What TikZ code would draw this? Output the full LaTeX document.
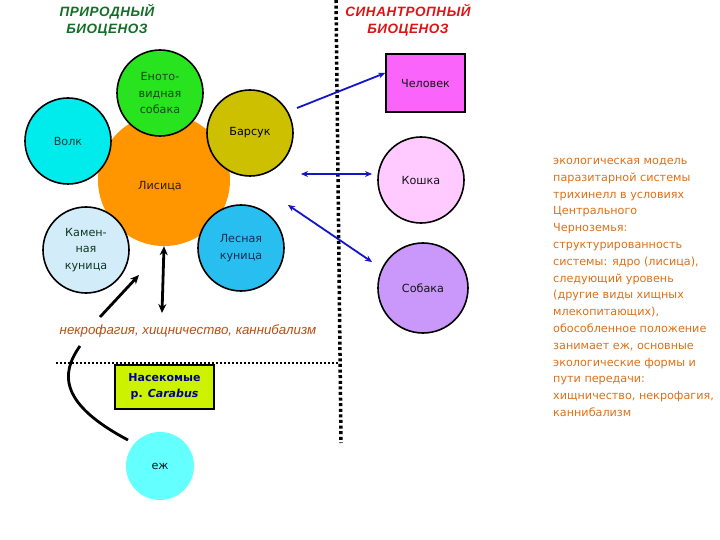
\documentclass[tikz,border=0pt]{standalone}
\usepackage{fontspec}
\setmainfont{DejaVu Sans}
\newfontfamily\titlefont[LetterSpace=4]{Liberation Sans}
\newfontfamily\pathfont{Liberation Sans}
\newfontfamily\notefont{DejaVu Sans}
\usetikzlibrary{arrows.meta}
\definecolor{cGreen}{RGB}{40,228,30}
\definecolor{cWolf}{RGB}{0,236,236}
\definecolor{cBadger}{RGB}{204,192,0}
\definecolor{cFox}{RGB}{255,150,0}
\definecolor{cStone}{RGB}{210,236,250}
\definecolor{cPine}{RGB}{40,190,240}
\definecolor{cMan}{RGB}{250,100,250}
\definecolor{cCat}{RGB}{255,202,255}
\definecolor{cDog}{RGB}{202,152,250}
\definecolor{cIns}{RGB}{204,242,0}
\definecolor{cHog}{RGB}{100,255,255}
\definecolor{cNote}{RGB}{222,112,24}
\definecolor{cPath}{RGB}{186,78,20}
\definecolor{cTitleG}{RGB}{20,110,40}
\definecolor{cTitleR}{RGB}{220,20,20}
\definecolor{cArrow}{RGB}{20,20,200}
\definecolor{cTxt}{RGB}{20,20,25}
\begin{document}
\begin{tikzpicture}[x=1pt,y=-1pt,
  circ/.style={circle,draw=black,line width=1.6pt,minimum size=86pt,inner sep=0pt,align=center,font=\fontsize{11.2}{16.5}\selectfont,text=cTxt},
  title/.style={align=center,font=\titlefont\fontsize{13.5}{17}\selectfont\bfseries\itshape},
  barrow/.style={draw=cArrow,line width=1.8pt,-{Stealth[length=7pt,width=6pt]}},
  bdarrow/.style={draw=cArrow,line width=1.8pt,{Stealth[length=7pt,width=6pt]}-{Stealth[length=7pt,width=6pt]}},
  karrow/.style={draw=black,line width=2.8pt,-{Stealth[length=9pt,width=8pt]}},
  kdarrow/.style={draw=black,line width=2.8pt,{Stealth[length=9pt,width=8pt]}-{Stealth[length=9pt,width=8pt]}},
  vdots/.style={draw=black,line width=3.5pt,dash pattern=on 3pt off 2.6pt},
  hdots/.style={draw=black,line width=2pt,dash pattern=on 2pt off 2pt}]
\useasboundingbox[fill=white] (0,0) rectangle (720,540);

% titles
\node[title,text=cTitleG] (t1) at (107,20) {ПРИРОДНЫЙ\\БИОЦЕНОЗ};
\node[title,text=cTitleR] (t2) at (408,20) {СИНАНТРОПНЫЙ\\БИОЦЕНОЗ};

% separators
\coordinate (v1) at (336,0);
\coordinate (v2) at (341,443);
\draw[vdots] (v1) -- (v2);
\coordinate (h1) at (56,363);
\coordinate (h2) at (338,363);
\draw[hdots] (h1) -- (h2);

% fox core
\node[circle,fill=cFox,minimum size=132pt,inner sep=0pt] (lis) at (164,180) {};
\node[font=\fontsize{11.2}{13}\selectfont,text={rgb,255:red,50;green,25;blue,0}] (lisl) at (160,186) {Лисица};

\node[circ,fill=cGreen,text={rgb,255:red,25;green,70;blue,25}] (enot) at (160,93) {Еното-\\видная\\собака};
\node[circ,fill=cWolf,text={rgb,255:red,15;green,60;blue,60}] (volk) at (68,141) {Волк};
\node[circ,fill=cBadger,text=black] (bars) at (250,133) {Барсук};
\node[circ,fill=cStone,text={rgb,255:red,15;green,55;blue,35}] (kamen) at (86,250) {Камен-\\ная\\куница};
\node[circ,fill=cPine,text={rgb,255:red,15;green,45;blue,80}] (lesn) at (241,248) {Лесная\\куница};

% synanthropic
\node[draw=black,line width=1.6pt,fill=cMan,minimum width=79pt,minimum height=58pt,inner sep=0pt,font=\fontsize{11.2}{13}\selectfont,text=cTxt] (chel) at (425.5,83) {Человек};
\node[circ,fill=cCat] (kosh) at (421,180) {Кошка};
\node[circ,fill=cDog,minimum size=90pt] (sob) at (423,288) {Собака};

% transmission text
\node[font=\pathfont\fontsize{13.3}{15}\selectfont\itshape,text=cPath] (path) at (188,331) {некрофагия, хищничество, каннибализм};

% insects and hedgehog
\node[draw=black,line width=2pt,fill=cIns,minimum width=99pt,minimum height=44pt,inner sep=0pt,align=center,font=\fontsize{11}{16}\selectfont\bfseries,text={rgb,255:red,0;green,0;blue,150}] (ins) at (164.5,387) {Насекомые\\р. \textit{Carabus}};
\node[circle,fill=cHog,minimum size=68pt,inner sep=0pt,font=\fontsize{11.2}{13}\selectfont,text=cTxt] (ezh) at (160,466) {еж};

% blue arrows
\coordinate (a1s) at (297,108);
\coordinate (a2s) at (301,174);
\coordinate (a2e) at (372,174);
\coordinate (a3s) at (288,205);
\coordinate (a3e) at (372,262);
\draw[barrow] (a1s) -- ([yshift=10pt]chel.west);
\draw[bdarrow] (a2s) -- (a2e);
\draw[bdarrow] (a3s) -- (a3e);

% black arrows
\coordinate (k1e) at (162,313);
\draw[kdarrow] (lis.south) -- (k1e);
\coordinate (k2s) at (100,317);
\coordinate (k2e) at (139,275);
\draw[karrow] (k2s) -- (k2e);
\coordinate (c1) at (80,346);
\coordinate (c2) at (128,440);
\draw[black,line width=2.8pt] (c1) .. controls (60,374) and (60,404) .. (c2);

% note
\node[anchor=north west,align=left,inner sep=0pt,font=\notefont\fontsize{11.2}{16.8}\selectfont,text=cNote] (note) at (553,158) {экологическая модель\\паразитарной системы\\трихинелл в условиях\\Центрального\\Черноземья:\\структурированность\\системы: ядро (лисица),\\следующий уровень\\(другие виды хищных\\млекопитающих),\\обособленное положение\\занимает еж, основные\\экологические формы и\\пути передачи:\\хищничество, некрофагия,\\каннибализм};
\end{tikzpicture}
\end{document}
